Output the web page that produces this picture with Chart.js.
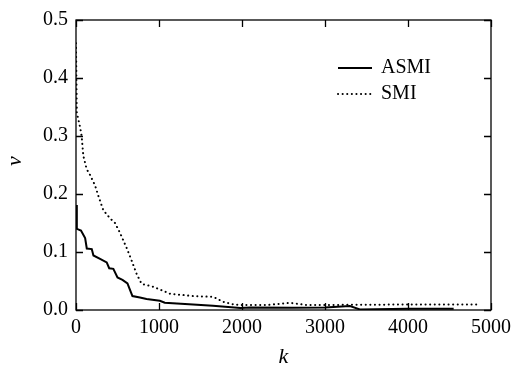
<!DOCTYPE html>
<html lang="en">
<head>
    <meta charset="UTF-8">
    <title>ASMI vs SMI</title>
    <script src="https://cdn.jsdelivr.net/npm/chart.js"></script>
    <style>
        body{margin:0;background:#fff;}
        #wrap{width:517px;height:376px;}
    </style>
</head>
<body>
    <div id="wrap"><canvas id="chart" width="517" height="376"></canvas></div>
    <script>
        // values
        const asmiK = [0, 10, 60, 110, 130, 190, 210, 290, 370, 400, 450, 500, 560, 620, 680, 770, 850, 1010, 1070, 1410, 1650, 1980, 2100, 2600, 3000, 3300, 3420, 4000, 4550];
        const asmiV = [0.181, 0.140, 0.137, 0.124, 0.106, 0.105, 0.094, 0.088, 0.082, 0.072, 0.071, 0.056, 0.052, 0.046, 0.024, 0.0215, 0.019, 0.016, 0.0125, 0.0096, 0.0073, 0.0034, 0.0045, 0.004, 0.0045, 0.0068, 0.001, 0.002, 0.002];
        const smiK = [0, 5, 10, 48, 68, 88, 128, 169, 229, 269, 329, 410, 470, 530, 610, 671, 731, 791, 932, 1133, 1413, 1654, 1775, 1895, 2016, 2297, 2578, 2779, 3000, 3300, 3500, 4000, 4500, 4850];
        const smiV = [0.46, 0.40, 0.34, 0.316, 0.30, 0.266, 0.243, 0.233, 0.215, 0.197, 0.172, 0.158, 0.150, 0.133, 0.107, 0.085, 0.062, 0.045, 0.040, 0.028, 0.024, 0.0226, 0.014, 0.0097, 0.0085, 0.0085, 0.0124, 0.0085, 0.0085, 0.009, 0.009, 0.0096, 0.0096, 0.0096];
        const xTicks = [0, 1000, 2000, 3000, 4000, 5000];
        const yTicks = [0, 0.1, 0.2, 0.3, 0.4, 0.5];
        const seriesNames = ['ASMI', 'SMI'];

        const serif = "'Liberation Serif', 'Times New Roman', serif";

        const toPoints = (ks, vs) => ks.map((k, i) => ({ x: k, y: vs[i] }));

        // frame, inward ticks on all sides, axis titles and legend
        const framePlugin = {
            id: 'frame',
            afterDraw(chart) {
                const { ctx, chartArea: a, scales } = chart;
                const len = 7;
                ctx.save();
                ctx.strokeStyle = '#000';
                ctx.lineWidth = 1.3;
                ctx.strokeRect(a.left, a.top, a.right - a.left, a.bottom - a.top);
                ctx.beginPath();
                xTicks.forEach(t => {
                    const px = Math.round(scales.x.getPixelForValue(t)) + 0.5;
                    ctx.moveTo(px, a.bottom); ctx.lineTo(px, a.bottom - len);
                    ctx.moveTo(px, a.top); ctx.lineTo(px, a.top + len);
                });
                yTicks.forEach(t => {
                    const py = Math.round(scales.y.getPixelForValue(t)) + 0.5;
                    ctx.moveTo(a.left, py); ctx.lineTo(a.left + len, py);
                    ctx.moveTo(a.right, py); ctx.lineTo(a.right - len, py);
                });
                ctx.stroke();

                // axis titles
                ctx.fillStyle = '#000';
                ctx.font = 'italic 22px ' + serif;
                ctx.textAlign = 'center';
                ctx.textBaseline = 'middle';
                ctx.fillText('k', (a.left + a.right) / 2, 357);
                ctx.save();
                ctx.translate(15, 161);
                ctx.rotate(-Math.PI / 2);
                ctx.fillText('v', 0, 0);
                ctx.restore();

                // legend
                ctx.font = '20px ' + serif;
                ctx.textAlign = 'left';
                const rows = [68, 94];
                chart.data.datasets.forEach((ds, i) => {
                    const y = rows[i];
                    ctx.beginPath();
                    ctx.lineWidth = ds.borderWidth;
                    ctx.lineCap = ds.borderCapStyle || 'butt';
                    ctx.setLineDash(ds.borderDash || []);
                    ctx.moveTo(338, y); ctx.lineTo(372, y);
                    ctx.stroke();
                    ctx.setLineDash([]);
                    ctx.fillText(seriesNames[i], 381, y);
                });
                ctx.restore();
            }
        };

        new Chart(document.getElementById('chart'), {
            type: 'line',
            data: {
                datasets: [
                    { label: seriesNames[0], data: toPoints(asmiK, asmiV), borderColor: '#000', borderWidth: 2, pointRadius: 0, tension: 0, fill: false },
                    { label: seriesNames[1], data: toPoints(smiK, smiV), borderColor: '#000', borderWidth: 2, borderDash: [0.1, 4.5], borderCapStyle: 'round', pointRadius: 0, tension: 0, fill: false }
                ]
            },
            options: {
                responsive: false,
                animation: false,
                layout: { padding: { top: 15, right: 26, left: 0, bottom: 0 } },
                plugins: { legend: { display: false }, tooltip: { enabled: false } },
                scales: {
                    x: {
                        type: 'linear', min: 0, max: 5000,
                        afterFit: s => { s.height = 66; },
                        afterBuildTicks: s => { s.ticks = xTicks.map(v => ({ value: v })); },
                        grid: { display: false, drawTicks: false },
                        border: { display: false },
                        ticks: { color: '#000', padding: 6, font: { family: serif, size: 20 }, maxRotation: 0, callback: v => String(v) }
                    },
                    y: {
                        type: 'linear', min: 0, max: 0.5,
                        afterFit: s => { s.width = 76; },
                        afterBuildTicks: s => { s.ticks = yTicks.map(v => ({ value: v })); },
                        grid: { display: false, drawTicks: false },
                        border: { display: false },
                        ticks: { color: '#000', padding: 8, font: { family: serif, size: 20 }, callback: v => v.toFixed(1) }
                    }
                }
            },
            plugins: [framePlugin]
        });
    </script>
</body>
</html>
